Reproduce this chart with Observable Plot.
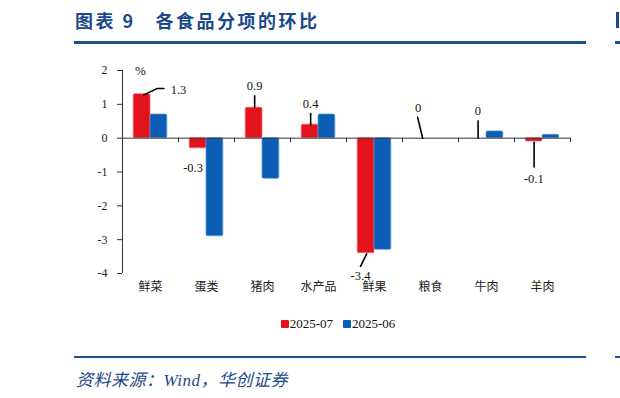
<!DOCTYPE html>
<html>
<head>
<meta charset="utf-8">
<script src="https://cdn.jsdelivr.net/npm/d3@7"></script>
<script src="https://cdn.jsdelivr.net/npm/@observablehq/plot@0.6"></script>
<style>
  html, body { margin: 0; padding: 0; background: #fff; }
  body { width: 620px; height: 398px; position: relative; overflow: hidden; }
  .title { position: absolute; left: 75px; top: 7px; font-family: "Noto Sans CJK SC", sans-serif; font-weight: 700; font-size: 18px; color: #1b4a8a; white-space: nowrap; letter-spacing: 2.5px; }
  .hr { position: absolute; height: 2.5px; background: #1f4e8c; }
  .frag { position: absolute; left: 616px; top: 12px; width: 3px; height: 16px; background: #1b4a8a; }
  .legend { position: absolute; top: 316px; left: 0; width: 620px; text-align: center; font-family: "Liberation Serif", serif; font-size: 13px; color: #111; padding-left: 56px; box-sizing: border-box; }
  .legend span.sw { display: inline-block; width: 8px; height: 8px; vertical-align: 0px; margin-right: 1px; border-radius: 1px; }
  .legend span.item { margin: 0 5px; }
  .source { position: absolute; left: 76px; top: 366px; font-family: "Liberation Serif", "Noto Sans CJK SC", serif; font-style: italic; font-size: 17px; color: #1b4a8a; white-space: nowrap; letter-spacing: 0.5px; }
  #chart { position: absolute; left: 0; top: 50px; }
</style>
</head>
<body>
<div class="title">图表 9&nbsp;&nbsp;&nbsp;各食品分项的环比</div>
<div class="hr" style="left:74px; width:512px; top:41px;"></div>
<div class="frag"></div>
<div class="hr" style="left:615px; width:10px; top:41px;"></div>
<div id="chart"></div>
<div class="legend" id="legend"></div>
<div class="hr" style="left:74px; width:512px; top:355.5px;"></div>
<div class="hr" style="left:615px; width:10px; top:355.5px;"></div>
<div class="source">资料来源：Wind，华创证券</div>
<script>
// ---- data ----
const categories = ["鲜菜", "蛋类", "猪肉", "水产品", "鲜果", "粮食", "牛肉", "羊肉"];
const seriesNames = ["2025-07", "2025-06"];
const values0707 = [1.3, -0.3, 0.9, 0.4, -3.4, 0, 0, -0.1];
const values0606 = [0.7, -2.9, -1.2, 0.7, -3.3, 0, 0.2, 0.1];
const yTicks = [2, 1, 0, -1, -2, -3, -4];
const unitLabel = "%";

// ---- styling / layout ----
const colors = ["#e3121d", "#0b5db5"];
const strokes = ["#ef6a6f", "#5b93d3"];
// data-label anchors (x in category-band units, y in value units) for the 2025-07 series
const labelPos = [
  {x: 1.00, y: 1.42}, {x: 1.26, y: -0.88}, {x: 2.36, y: 1.54}, {x: 3.36, y: 1.01},
  {x: 4.25, y: -4.08}, {x: 5.28, y: 0.90}, {x: 6.345, y: 0.81}, {x: 7.345, y: -1.20}
];
// leader lines (polyline vertices, same units)
const leaders = [
  [[0.38, 1.28], [0.62, 1.47], [0.74, 1.47]],
  [],
  [[2.36, 1.25], [2.36, 0.915]],
  [[3.36, 0.73], [3.36, 0.39]],
  [[4.36, -3.42], [4.25, -3.79]],
  [[5.27, 0.62], [5.36, 0.0]],
  [[6.35, 0.51], [6.35, 0.0]],
  [[7.35, -0.12], [7.35, -0.855]]
];

const bars = [];
categories.forEach((c, i) => {
  bars.push({cat: c, i, s: 0, v: values0707[i]});
  bars.push({cat: c, i, s: 1, v: values0606[i]});
});
const labels = categories.map((c, i) => ({
  x: labelPos[i].x, y: labelPos[i].y, text: String(values0707[i])
}));
const leaderPts = leaders.flatMap((pts, k) => pts.map(([x, y]) => ({k, x, y})));

const chart = Plot.plot({
  width: 620,
  height: 255,
  marginLeft: 122,
  marginRight: 50,
  marginTop: 20,
  marginBottom: 32,
  style: {fontFamily: "'Liberation Serif', 'Noto Sans CJK SC', serif", fontSize: "12px", color: "#222", background: "transparent"},
  x: {type: "linear", domain: [0, categories.length], label: null},
  y: {domain: [-4, 2], label: null},
  marks: [
    Plot.rectY(bars, {
      x1: d => d.i + (d.s === 0 ? 0.2 : 0.5),
      x2: d => d.i + (d.s === 0 ? 0.5 : 0.8),
      y1: 0, y2: "v",
      fill: d => colors[d.s],
      stroke: d => strokes[d.s],
      strokeWidth: 0.7,
      rx: 1.5
    }),
    Plot.ruleY([0], {stroke: "#333", strokeWidth: 1}),
    Plot.ruleX(d3.range(categories.length + 1), {y1: 0, y2: -0.13, stroke: "#333", strokeWidth: 1}),
    Plot.ruleX([0], {y1: -4, y2: 2, stroke: "#333", strokeWidth: 1}),
    Plot.axisY({ticks: yTicks, tickSize: 5, tickPadding: 10, tickFormat: d => String(d), fontSize: 12, stroke: "#333"}),
    Plot.axisX({
      ticks: d3.range(categories.length).map(i => i + 0.5),
      tickFormat: d => categories[Math.floor(d)],
      tickSize: 0, tickPadding: 9, fontSize: 12,
      style: {letterSpacing: "1.5px", fontFamily: "'Noto Sans CJK SC', sans-serif"}
    }),
    Plot.line(leaderPts, {x: "x", y: "y", z: "k", stroke: "#000", strokeWidth: 1.6}),
    Plot.text(labels, {x: "x", y: "y", text: "text", fill: "#111", fontSize: 12.5}),
    Plot.text([unitLabel], {x: 0.32, y: 2.0, text: d => d, fill: "#111", fontSize: 13})
  ]
});
document.getElementById("chart").appendChild(chart);

const legend = document.getElementById("legend");
legend.innerHTML = seriesNames.map((n, k) =>
  `<span class="item"><span class="sw" style="background:${colors[k]}"></span>${n}</span>`).join("");
</script>
</body>
</html>
